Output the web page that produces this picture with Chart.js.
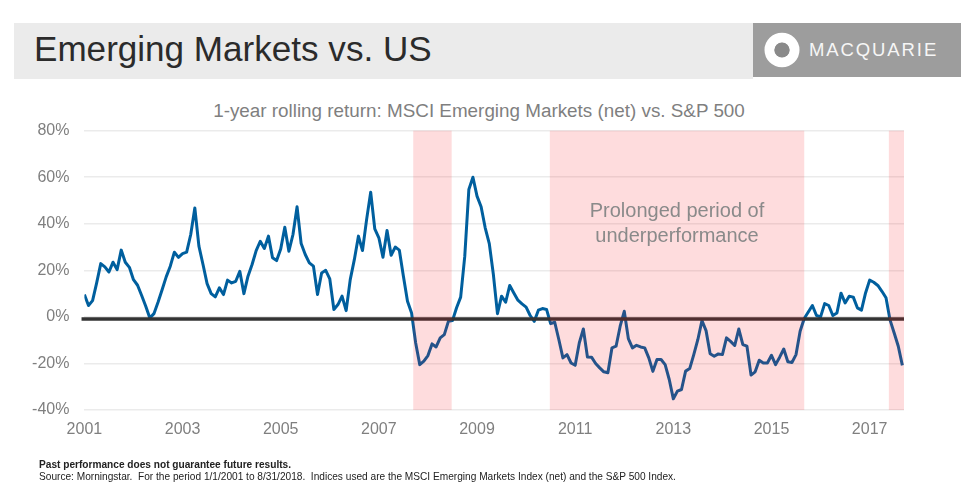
<!DOCTYPE html>
<html>
<head>
<meta charset="utf-8">
<title>Emerging Markets vs. US</title>
<script src="https://cdn.jsdelivr.net/npm/chart.js@4"></script>
<style>
  html, body { margin: 0; padding: 0; background: #fff; }
  body { width: 969px; height: 488px; position: relative; overflow: hidden; font-family: "Liberation Sans", Arial, sans-serif; }
  canvas { position: absolute; left: 0; top: 0; }
  .banner { position: absolute; left: 14px; top: 23px; width: 739px; height: 56px; background: #ebebeb; }
  .banner span { position: absolute; left: 20px; top: 4px; font-size: 35.1px; line-height: 44px; color: #2b2b2b; white-space: nowrap; }
  .logo { position: absolute; left: 753px; top: 23px; width: 208px; height: 54px; background: #9d9d9d; }
  .logo svg { position: absolute; left: 11px; top: 9px; }
  .logo span { position: absolute; left: 56px; top: 15px; font-size: 18.5px; letter-spacing: 1.9px; line-height: 24px; color: #f6f6f6; white-space: nowrap; }
  .subtitle { position: absolute; left: 0; width: 958px; top: 100px; text-align: center; font-size: 18.85px; line-height: 22px; color: #7f7f7f; }
  .note { position: absolute; left: 39px; font-size: 10.15px; line-height: 12px; color: #222; white-space: pre; }
</style>
</head>
<body>
<div class="banner"><span>Emerging Markets vs. US</span></div>
<div class="logo">
  <svg width="36" height="36" viewBox="0 0 36 36"><ellipse cx="18" cy="18" rx="12.5" ry="12.2" fill="none" stroke="#fff" stroke-width="10"/><ellipse cx="18" cy="18" rx="7.6" ry="7.6" fill="#8a8a8a"/></svg>
  <span>MACQUARIE</span>
</div>
<div class="subtitle">1-year rolling return: MSCI Emerging Markets (net) vs. S&amp;P 500</div>
<canvas id="chart" width="969" height="488"></canvas>
<div class="note" style="top:459px;font-weight:bold">Past performance does not guarantee future results.</div>
<div class="note" style="top:471px">Source: Morningstar.  For the period 1/1/2001 to 8/31/2018.  Indices used are the MSCI Emerging Markets Index (net) and the S&amp;P 500 Index.</div>

<script>
// monthly readings, Jan 2001 onward (percent)
const rollingReturn = [
  9.6, 4.9, 7, 14.6, 22.9, 21.5, 19.3, 23.5, 20.3, 28.7, 23.5, 21.3,
  16, 13.6, 9.2, 4.6, -0.5, 1.4, 6.3, 11.7, 17.2, 21.8, 27.8, 25.6,
  27.2, 27.8, 35.4, 46.8, 30.4, 22.5, 14.3, 10, 8.6, 12.5, 9.6, 15.8,
  14.6, 15.3, 19.6, 10, 17.5, 22.5, 28.5, 32.5, 29.4, 34.7, 25.4, 24.2,
  29.2, 38.5, 28.2, 35.4, 47.3, 31.5, 26.8, 23.2, 21.8, 9.6, 18.9, 20,
  16.3, 3.2, 5.3, 8.9, 2.7, 16, 24.6, 34.7, 28.5, 41.8, 53.6, 37.8,
  34, 25.6, 37.1, 26.5, 30, 28.7, 17.5, 6.7, 1.7, -11.2, -20.5, -19,
  -16.6, -11.6, -12.9, -9, -7.6, -1.9, -1.6, 3.9, 8.5, 26, 54.7, 60,
  51.9, 47.3, 38.3, 31.5, 18.2, 1.4, 8.9, 6.3, 13.5, 10.3, 7.2, 5.6,
  4.2, 0.6, -1.9, 2.9, 3.6, 3.2, -2.9, -2.3, -9.7, -17.6, -16.2, -19.8,
  -20.8, -11.2, -5.2, -17.2, -17.3, -20, -21.9, -23.6, -24, -13.3, -12.6, -4,
  2.4, -9.3, -13.3, -12.2, -12.9, -13.3, -17.6, -23.4, -18.3, -18.3, -20.5, -26.9,
  -35.2, -31.9, -31.2, -23.3, -22.2, -16.2, -9.7, -1.6, -5.9, -15.8, -16.9, -15.9,
  -16.2, -9, -10.5, -12.3, -5.2, -11.9, -12.6, -25, -23.6, -18.6, -19.8, -19.8,
  -16.5, -20.5, -17.3, -13.8, -19.3, -19.6, -16.2, -6.2, -0.7, 2.1, 4.9, 0.6,
  0, 5.7, 4.9, 0.6, 1.7, 10.2, 6, 8.9, 8.5, 3.9, 2.9, 10.3,
  15.8, 14.9, 13.5, 11, 8.2, -1.4, -6.9, -12.6, -20.8
];
const xTickLabels = ['2001', '2003', '2005', '2007', '2009', '2011', '2013', '2015', '2017'];

// underperformance bands, in months since Jan 2001
const bandStarts = [80.4, 113.8, 196.7];
const bandEnds = [89.8, 176, 200.4];

const lastMonth = 200.4;
const zeroLineValue = -0.9;
const zeroLineMonths = [-0.7, 200.4];
const noteLines = ['Prolonged period of', 'underperformance'];
const noteMonth = 144.9;
const noteValues = [45.3, 34.5];

const bandsPlugin = {
  id: 'bands',
  afterDatasetsDraw(chart) {
    const { ctx, scales: { x, y } } = chart;
    ctx.save();
    ctx.fillStyle = 'rgba(248,20,30,0.15)';
    bandStarts.forEach((start, i) => {
      const left = x.getPixelForValue(start);
      ctx.fillRect(left, y.top, x.getPixelForValue(bandEnds[i]) - left, y.bottom - y.top);
    });
    ctx.fillStyle = '#8a8a8a';
    ctx.font = '20px "Liberation Sans", Arial, sans-serif';
    ctx.textAlign = 'center';
    ctx.textBaseline = 'middle';
    noteLines.forEach((line, i) => {
      ctx.fillText(line, x.getPixelForValue(noteMonth), y.getPixelForValue(noteValues[i]));
    });
    ctx.restore();
  }
};

new Chart(document.getElementById('chart'), {
  type: 'line',
  data: {
    datasets: [
      {
        label: 'Zero',
        data: zeroLineMonths.map(m => ({ x: m, y: zeroLineValue })),
        borderColor: '#333333',
        borderWidth: 3.5,
        pointRadius: 0,
        clip: false
      },
      {
        label: 'MSCI Emerging Markets (net) vs. S&P 500',
        data: rollingReturn.map((v, i) => ({ x: i, y: v })),
        borderColor: '#005f9e',
        borderWidth: 3,
        pointRadius: 0,
        borderJoinStyle: 'round',
        tension: 0
      }
    ]
  },
  options: {
    responsive: false,
    animation: false,
    layout: { padding: { top: 130.7, right: 65, bottom: 48, left: 0 } },
    plugins: { legend: { display: false }, title: { display: false }, tooltip: { enabled: false } },
    scales: {
      x: {
        type: 'linear',
        min: 0,
        max: lastMonth,
        afterFit: s => { s.height = 30; },
        grid: { display: false },
        border: { display: false },
        ticks: {
          stepSize: 24,
          includeBounds: false,
          autoSkip: false,
          maxRotation: 0,
          padding: 2,
          color: '#7f7f7f',
          font: { family: '"Liberation Sans", Arial, sans-serif', size: 16 },
          callback: v => xTickLabels[v / 24]
        }
      },
      y: {
        min: -40,
        max: 80,
        afterFit: s => { s.width = 84.4; },
        grid: { color: '#ebebeb', lineWidth: 1.5, drawTicks: false },
        border: { display: false },
        ticks: {
          stepSize: 20,
          padding: 15,
          color: '#7f7f7f',
          font: { family: '"Liberation Sans", Arial, sans-serif', size: 16 },
          callback: v => v + '%'
        }
      }
    }
  },
  plugins: [bandsPlugin]
});
</script>
</body>
</html>
